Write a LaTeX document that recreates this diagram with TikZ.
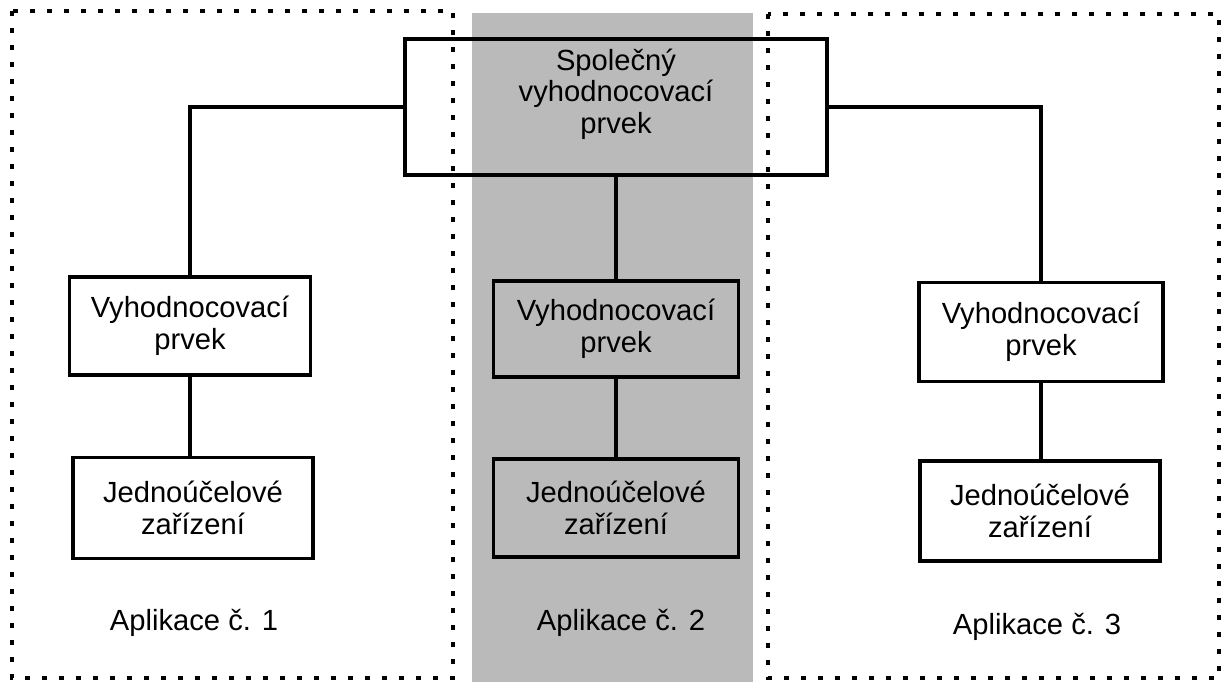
\documentclass[tikz,border=0pt]{standalone}
\usepackage{fontspec}
\setmainfont{Liberation Sans}
\usetikzlibrary{positioning}

\tikzset{
    blok/.style args={#1/#2}{
        draw, line width=2pt, minimum width=#1, minimum height=#2,
        align=center, inner sep=0pt, font=\fontsize{16.6}{18}\selectfont
    },
    spoj/.style={line width=2pt},
    oblast/.style={line width=2.2pt, dash pattern=on 0.11cm off 0.23cm},
    popis/.style={font=\fontsize{16.6}{18}\selectfont}
}

\begin{document}
\begin{tikzpicture}[x=0.02cm,y=-0.02cm]
                      \useasboundingbox (0,0) rectangle (1232,682);
                      \fill[black!27] (472,13) rectangle (753,682);
                      \draw[oblast] (12,11) rectangle (453,678);
                      \draw[oblast] (768,14) rectangle (1219,678);

                      \node[blok=8.44cm/2.72cm] (spol) at (616,107) {};
                      \node[popis,align=center] (spoltext) at (616,94) {Společný\\vyhodnocovací\\prvek};

                      \node[blok=4.82cm/1.96cm] (vyh1) at (190,326) {Vyhodnocovací\\prvek};
                      \node[blok=4.8cm/2.02cm] (jed1) at (193,508) {Jednoúčelové\\zařízení};

                      \node[blok=4.9cm/1.92cm] (vyh2) at (616,329) {Vyhodnocovací\\prvek};
                      \node[blok=4.9cm/1.96cm] (jed2) at (616,508) {Jednoúčelové\\zařízení};

                      \node[blok=4.88cm/1.98cm] (vyh3) at (1041,332) {Vyhodnocovací\\prvek};
                      \node[blok=4.8cm/2cm] (jed3) at (1040,511) {Jednoúčelové\\zařízení};

                      \draw[spoj] (spol.west) -| (vyh1.north);
                      \draw[spoj] (spol.south) -- (vyh2.north);
                      \draw[spoj] (spol.east) -| (vyh3.north);
                      \draw[spoj] (vyh1.south) -- (vyh1.south |- jed1.north);
                      \draw[spoj] (vyh2.south) -- (jed2.north);
                      \draw[spoj] (vyh3.south) -- (vyh3.south |- jed3.north);

                      \node[popis] (apl1) at (194,623) {Aplikace č. 1};
                      \node[popis] (apl2) at (621,623) {Aplikace č. 2};
                      \node[popis] (apl3) at (1037,627) {Aplikace č. 3};

                  \end{tikzpicture}
\end{document}
